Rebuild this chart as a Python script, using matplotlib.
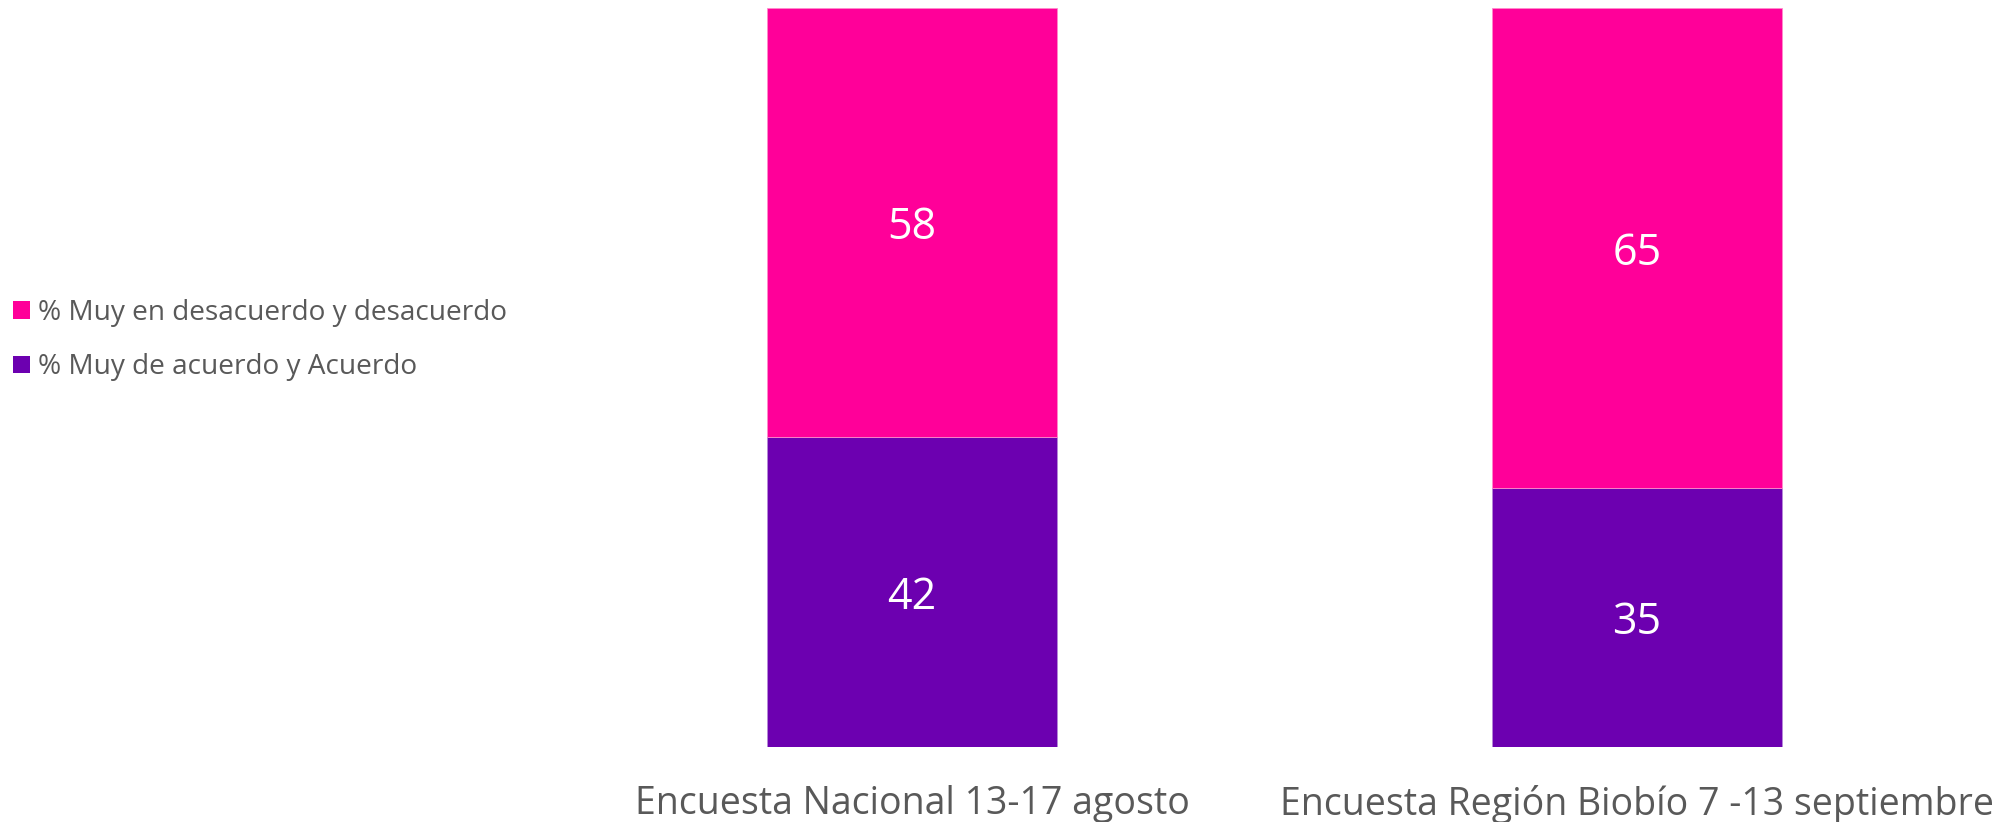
import matplotlib.pyplot as plt
from matplotlib.patches import Patch
import numpy as np

plt.rcParams['font.family'] = ['Open Sans', 'DejaVu Sans']

# data
categories = ["Encuesta Nacional 13-17 agosto",
              "Encuesta Región Biobío 7 -13 septiembre"]
acuerdo = [42, 35]
desacuerdo = [58, 65]
series_names = ["% Muy en desacuerdo y desacuerdo",
                "% Muy de acuerdo y Acuerdo"]

PINK = "#FF0099"
PURPLE = "#6C00B0"
GRAY = "#595959"

fig = plt.figure(figsize=(20.01, 8.22), dpi=100)
ax = fig.add_axes([549.5 / 2001, 75 / 822, 1450 / 2001, 739 / 822])

x = np.arange(len(categories))
b1 = ax.bar(x, acuerdo, width=0.4, color=PURPLE, edgecolor="#B58AD8", linewidth=0.6)
b2 = ax.bar(x, desacuerdo, width=0.4, bottom=acuerdo, color=PINK,
            edgecolor="#FF8ACB", linewidth=0.6)

# value labels in the middle of each segment (slightly below center, like Excel)
for i in range(len(x)):
    ax.annotate(str(acuerdo[i]), (x[i], acuerdo[i] / 2), xytext=(0, -4),
                textcoords="offset points", ha="center", va="center",
                color="white", fontsize=31)
    ax.annotate(str(desacuerdo[i]), (x[i], acuerdo[i] + desacuerdo[i] / 2),
                xytext=(0, -4), textcoords="offset points", ha="center",
                va="center", color="white", fontsize=31)

ax.set_xlim(-0.5, 1.5)
ax.set_ylim(0, 100)
ax.set_xticks(x)
ax.set_xticklabels(categories, fontsize=27, color=GRAY)
ax.tick_params(axis="x", length=0, pad=27)
ax.set_yticks([])
for s in ax.spines.values():
    s.set_visible(False)

handles = [Patch(facecolor=PINK), Patch(facecolor=PURPLE)]
fig.legend(handles, series_names, loc="center left",
           bbox_to_anchor=(2 / 2001, 1 - 340 / 822), frameon=False,
           fontsize=20.2, labelcolor=GRAY, handlelength=0.6, handleheight=0.6,
           handletextpad=0.3, labelspacing=0.95, borderaxespad=0)

fig.savefig("out.png", dpi=100)
